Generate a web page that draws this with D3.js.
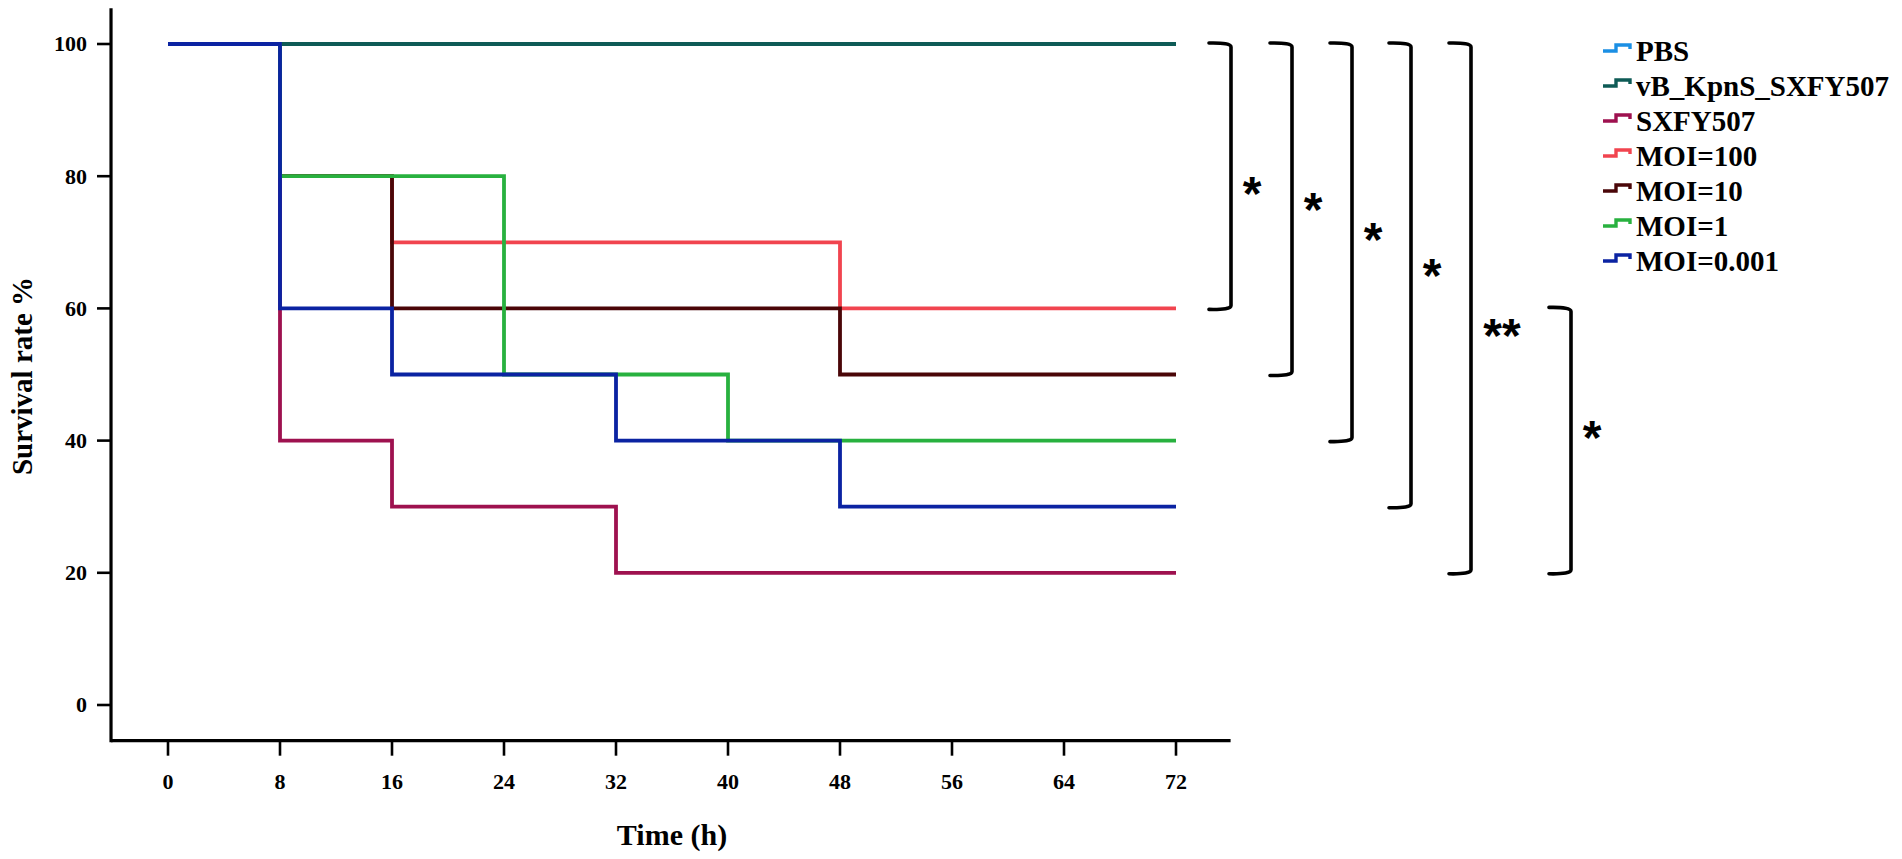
<!DOCTYPE html>
<html>
<head>
<meta charset="utf-8">
<script src="https://cdn.jsdelivr.net/npm/d3@7"></script>
<style>
  body { margin: 0; background: #fff; }
  svg text { font-family: "Liberation Serif", "Times New Roman", serif; font-weight: bold; fill: #000; }
  .sig { font-family: "Liberation Sans", Arial, sans-serif; font-weight: bold; }
</style>
</head>
<body>
<div id="chart"></div>
<script>
// groups, in legend / drawing order
var groups = ["PBS", "vB_KpnS_SXFY507", "SXFY507", "MOI=100", "MOI=10", "MOI=1", "MOI=0.001"];
var colors = ["#1b8fe4", "#0e5b56", "#9e114f", "#f1444f", "#4a0608", "#28b13f", "#0b23a2"];

// Kaplan-Meier steps: time of each step (h) and survival (%) from that time on
var stepTimes = [
  [0, 72],
  [0, 72],
  [0, 8, 16, 32, 72],
  [0, 8, 16, 48, 72],
  [0, 8, 16, 48, 72],
  [0, 8, 24, 40, 72],
  [0, 8, 16, 32, 48, 72]
];
var survival = [
  [100, 100],
  [100, 100],
  [100, 40, 30, 20, 20],
  [100, 80, 70, 60, 60],
  [100, 80, 60, 50, 50],
  [100, 80, 50, 40, 40],
  [100, 60, 50, 40, 30, 30]
];

var xTicks = [0, 8, 16, 24, 32, 40, 48, 56, 64, 72];
var yTicks = [0, 20, 40, 60, 80, 100];

// significance brackets (survival % at both ends) and their marks
var bracketTop = [100, 100, 100, 100, 100, 60];
var bracketBottom = [60, 50, 40, 30, 20, 20];
var bracketMarks = ["*", "*", "*", "*", "**", "*"];
var bracketMarkAt = [79.5, 77, 72.5, 67, 58, 42.5];

// layout
var w = 1902, h = 859;
var bracketX = [1231, 1292, 1352, 1411, 1471, 1571];
var legendX = 1603, legendY = 51, legendStep = 35;

var x = d3.scaleLinear().domain([0, 72]).range([168, 1176]);
var y = d3.scaleLinear().domain([0, 100]).range([705, 44]);
var xAxisAt = -5.4, yAxisAt = -4.07; // where the axes cross, in data units

var svg = d3.select("#chart").append("svg")
    .attr("width", w)
    .attr("height", h);

// axes
var axisY = y(xAxisAt), axisX = x(yAxisAt);

svg.append("line")
    .attr("x1", axisX).attr("x2", x(75.9))
    .attr("y1", axisY).attr("y2", axisY)
    .attr("stroke", "#000").attr("stroke-width", 3.2);

svg.append("line")
    .attr("x1", axisX).attr("x2", axisX)
    .attr("y1", y(105.4)).attr("y2", axisY + 1.6)
    .attr("stroke", "#000").attr("stroke-width", 3.2);

var xt = svg.append("g").selectAll("g")
    .data(xTicks)
  .enter().append("g")
    .attr("transform", function(d) { return "translate(" + x(d) + "," + axisY + ")"; });

xt.append("line")
    .attr("y2", 15)
    .attr("stroke", "#000").attr("stroke-width", 2.6);

xt.append("text")
    .attr("y", 48)
    .attr("text-anchor", "middle")
    .style("font-size", "22px")
    .text(function(d) { return d; });

var yt = svg.append("g").selectAll("g")
    .data(yTicks)
  .enter().append("g")
    .attr("transform", function(d) { return "translate(" + axisX + "," + y(d) + ")"; });

yt.append("line")
    .attr("x2", -14)
    .attr("stroke", "#000").attr("stroke-width", 2.6);

yt.append("text")
    .attr("x", -24)
    .attr("dy", "0.34em")
    .attr("text-anchor", "end")
    .style("font-size", "22px")
    .text(function(d) { return d; });

svg.append("text")
    .attr("x", x(36))
    .attr("y", 845)
    .attr("text-anchor", "middle")
    .style("font-size", "30px")
    .text("Time (h)");

svg.append("text")
    .attr("transform", "translate(32," + 376 + ") rotate(-90)")
    .attr("text-anchor", "middle")
    .style("font-size", "29px")
    .text("Survival rate %");

// survival curves
var line = d3.line()
    .x(function(d) { return x(d[0]); })
    .y(function(d) { return y(d[1]); })
    .curve(d3.curveStepAfter);

svg.append("g").selectAll("path")
    .data(groups)
  .enter().append("path")
    .attr("fill", "none")
    .attr("stroke", function(d, i) { return colors[i]; })
    .attr("stroke-width", 3.8)
    .attr("d", function(d, i) { return line(d3.zip(stepTimes[i], survival[i])); });

// significance brackets
var br = svg.append("g").selectAll("g")
    .data(bracketMarks)
  .enter().append("g");

br.append("path")
    .attr("fill", "none")
    .attr("stroke", "#000")
    .attr("stroke-width", 3.6)
    .attr("stroke-linejoin", "round")
    .attr("stroke-linecap", "round")
    .attr("d", function(d, i) {
      var bx = bracketX[i];
      return "M" + (bx - 22) + "," + (y(bracketTop[i]) - 1) +
             "Q" + bx + "," + (y(bracketTop[i]) - 1.5) + " " + bx + "," + (y(bracketTop[i]) + 3) +
             "V" + (y(bracketBottom[i]) - 3) +
             "Q" + bx + "," + (y(bracketBottom[i]) + 1.5) + " " + (bx - 22) + "," + (y(bracketBottom[i]) + 1);
    });

br.append("text")
    .attr("class", "sig")
    .attr("x", function(d, i) { return bracketX[i] + (d.length > 1 ? 31 : 21); })
    .attr("y", function(d, i) { return y(bracketMarkAt[i]) + 30; })
    .attr("text-anchor", "middle")
    .style("font-size", "48px")
    .text(function(d) { return d; });

// legend
var lg = svg.append("g").selectAll("g")
    .data(groups)
  .enter().append("g")
    .attr("transform", function(d, i) { return "translate(" + legendX + "," + (legendY + i * legendStep) + ")"; });

lg.append("path")
    .attr("fill", "none")
    .attr("stroke", function(d, i) { return colors[i]; })
    .attr("stroke-width", 3.4)
    .attr("d", "M0,0H13V-6H27V-2");

lg.append("text")
    .attr("x", 33)
    .attr("dy", "0.35em")
    .style("font-size", "29px")
    .text(function(d) { return d; });
</script>
</body>
</html>
